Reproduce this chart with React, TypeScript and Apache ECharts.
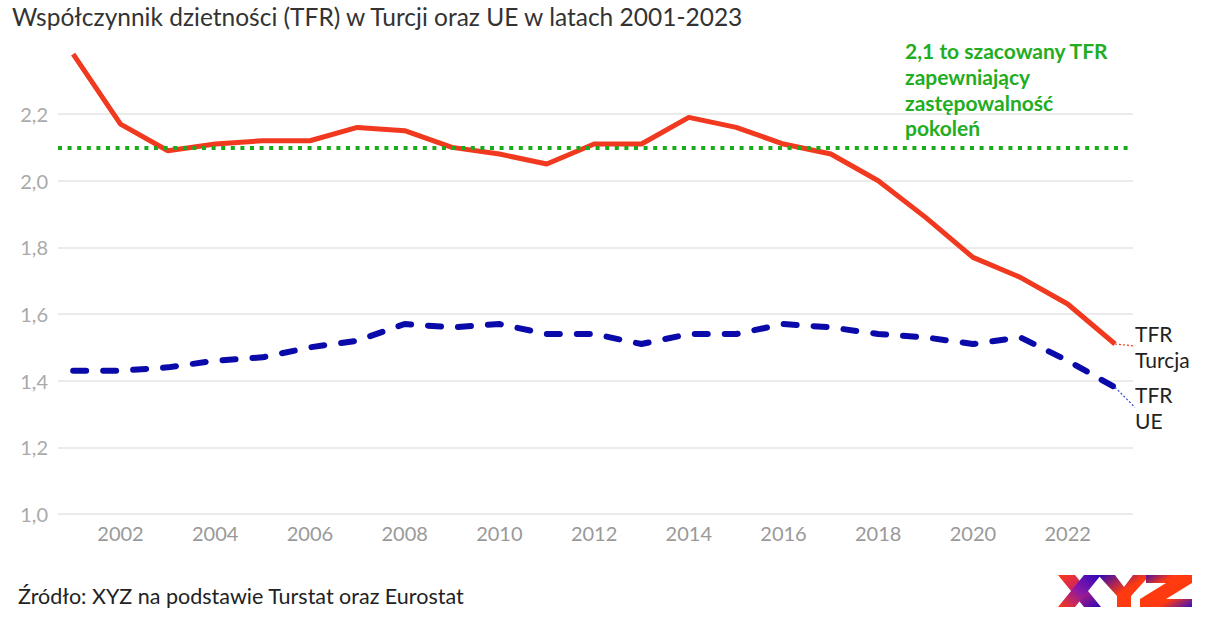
import React, { useEffect, useRef } from "react";
import * as echarts from "echarts";

const years = [2001, 2002, 2003, 2004, 2005, 2006, 2007, 2008, 2009, 2010, 2011, 2012, 2013, 2014, 2015, 2016, 2017, 2018, 2019, 2020, 2021, 2022, 2023];
const tfrTurkey = [2.38, 2.17, 2.09, 2.11, 2.12, 2.12, 2.16, 2.15, 2.10, 2.08, 2.05, 2.11, 2.11, 2.19, 2.16, 2.11, 2.08, 2.00, 1.89, 1.77, 1.71, 1.63, 1.51];
const tfrEU = [1.43, 1.43, 1.44, 1.46, 1.47, 1.50, 1.52, 1.57, 1.56, 1.57, 1.54, 1.54, 1.51, 1.54, 1.54, 1.57, 1.56, 1.54, 1.53, 1.51, 1.53, 1.46, 1.38];
const xTickLabels = [2002, 2004, 2006, 2008, 2010, 2012, 2014, 2016, 2018, 2020, 2022];
const replacementTFR = 2.1;

const titleText = "Współczynnik dzietności (TFR) w Turcji oraz UE w latach 2001-2023";
const sourceText = "Źródło: XYZ na podstawie Turstat oraz Eurostat";
const annotationText = "2,1 to szacowany TFR\nzapewniający\nzastępowalność\npokoleń";
const labelTurkey = "TFR\nTurcja";
const labelEU = "TFR\nUE";

const FONT = "Lato, 'Noto Sans', sans-serif";
const RED = "#f0391f";
const BLUE = "#0a0aaa";
const GREEN = "#1aab1a";

function buildData(values: number[], endLabel: string) {
  return values.map((v, i) => {
    if (i === values.length - 1) {
      return {
        value: [years[i], v],
        label: {
          show: true,
          position: "right",
          distance: 8,
          formatter: endLabel,
          color: "#222",
          fontSize: 21,
          lineHeight: 26,
          fontFamily: FONT,
        },
      };
    }
    return [years[i], v];
  });
}

function grad(x1: number, y1: number, x2: number, y2: number, stops: string[]) {
  return new echarts.graphic.LinearGradient(
    x1, y1, x2, y2,
    stops.map((c, i) => ({ offset: i / (stops.length - 1), color: c }))
  );
}

export default function App() {
  const ref = useRef<HTMLDivElement>(null);
  useEffect(() => {
    document.body.style.margin = "0";
    if (!ref.current) return;
    const chart = echarts.init(ref.current, undefined, { renderer: "svg" });
    chart.setOption({
      animation: false,
      backgroundColor: "#fff",
      grid: { left: 58, right: 77, top: 47.4, bottom: 122, containLabel: false },
      xAxis: {
        type: "value",
        min: 2000.68,
        max: 2023.38,
        axisLine: { show: false },
        axisTick: { show: false },
        splitLine: { show: false },
        axisLabel: {
          customValues: xTickLabels,
          color: "#999",
          fontSize: 20,
          fontFamily: FONT,
          margin: 9,
          formatter: (v: number) => String(v),
        },
      },
      yAxis: {
        type: "value",
        min: 1.0,
        max: 2.4,
        interval: 0.2,
        axisLine: { show: false },
        axisTick: { show: false },
        axisLabel: {
          showMaxLabel: false,
          color: "#aaa",
          fontSize: 20,
          fontFamily: FONT,
          margin: 10,
          formatter: (v: number) => v.toFixed(1).replace(".", ","),
        },
        splitLine: { showMaxLine: false, lineStyle: { color: "#e4e4e4", width: 1.5 } },
      },
      series: [
        {
          name: "TFR Turcja",
          type: "line",
          data: buildData(tfrTurkey, labelTurkey),
          showSymbol: true,
          symbol: "circle",
          symbolSize: 0.01,
          itemStyle: { color: RED },
          label: { show: false },
          labelLayout: { dx: 12, dy: 2 },
          labelLine: { show: true, lineStyle: { color: RED, width: 1.2, type: [2, 2] } },
          lineStyle: { color: RED, width: 5 },
          z: 3,
          markLine: {
            silent: true,
            symbol: "none",
            label: { show: false },
            lineStyle: { color: GREEN, width: 4, type: [4, 5.6], cap: "butt" },
            data: [{ yAxis: replacementTFR }],
          },
        },
        {
          name: "TFR UE",
          type: "line",
          data: buildData(tfrEU, labelEU),
          showSymbol: true,
          symbol: "circle",
          symbolSize: 0.01,
          itemStyle: { color: BLUE },
          label: { show: false },
          labelLayout: { dx: 12, dy: 20 },
          labelLine: { show: true, lineStyle: { color: "#3344cc", width: 1.2, type: [2, 2] } },
          lineStyle: { color: BLUE, width: 6, type: [13, 17], cap: "round" },
          z: 2,
        },
      ],
      graphic: [
        {
          type: "text",
          left: 12,
          top: 4,
          style: { text: titleText, fill: "#333", fontSize: 24.5, fontFamily: FONT },
        },
        {
          type: "text",
          left: 905,
          top: 38,
          z: 10,
          style: {
            text: annotationText,
            fill: "#22ad22",
            fontSize: 21,
            fontWeight: "bold",
            lineHeight: 25.7,
            fontFamily: FONT,
          },
        },
        {
          type: "text",
          left: 18,
          top: 585,
          style: { text: sourceText, fill: "#222", fontSize: 21.5, fontFamily: FONT },
        },
        {
          type: "group",
          children: [
            {
              type: "polygon",
              shape: { points: [[1058, 575], [1075, 575], [1101, 607], [1084, 607]] },
              style: { fill: grad(0, 0, 1, 1, ["#ff3a10", "#c0207a", "#2a08b8"]) },
            },
            {
              type: "polygon",
              shape: { points: [[1084, 575], [1101, 575], [1075, 607], [1058, 607]] },
              style: { fill: grad(0, 1, 1, 0, ["#ff3a10", "#8a18a8", "#2a08b8"]) },
            },
            {
              type: "polygon",
              shape: {
                points: [[1098, 575], [1115, 575], [1124, 587], [1133, 575], [1150, 575], [1131, 596], [1131, 607], [1117, 607], [1117, 596]],
              },
              style: { fill: grad(0, 0, 1, 1, ["#2a08b8", "#ff3a10", "#ff3a10"]) },
            },
            {
              type: "polygon",
              shape: {
                points: [[1146, 575], [1192, 575], [1192, 583], [1166, 599], [1192, 599], [1192, 607], [1140, 607], [1140, 599], [1166, 583], [1146, 583]],
              },
              style: { fill: grad(0, 0, 1, 1, ["#2a08b8", "#ff3a10", "#ff3a10", "#3a10c0"]) },
            },
          ],
        },
      ],
    });
    return () => chart.dispose();
  }, []);
  return <div ref={ref} style={{ width: 1210, height: 636 }} />;
}
